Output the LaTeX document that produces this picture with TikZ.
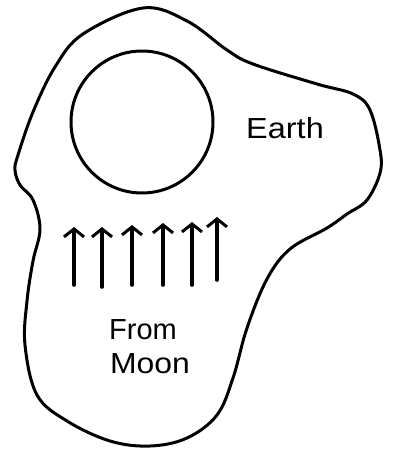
\documentclass[tikz,border=0pt]{standalone}
\usepackage{fontspec}
\setmainfont{Liberation Sans}
\usetikzlibrary{arrows.meta}
\begin{document}
\begin{tikzpicture}[x=1pt,y=-1pt,
  ink/.style={line width=3pt, line cap=round, line join=round},
  ray/.style={line width=3.6pt, line cap=round, -{Straight Barb[length=8pt,width=20pt,line width=3pt]}},
  hand/.style={font=\fontsize{29}{32}\selectfont, inner sep=0pt, anchor=center}]
\useasboundingbox (0,0) rectangle (392,456);
\draw[ink] plot[smooth cycle, tension=0.6] coordinates {
 (143,8) (187,21) (227,50) (253,64) (317,84) (353,94) (370,110) (380,150)
 (380,173) (367,200) (347,214) (327,228) (290,249) (267,279) (247,328)
 (233,378) (217,415) (187,438) (150,446) (110,441) (67,421) (37,395)
 (25,345) (27,301) (33,261) (40,229) (33,200) (20,185) (15,170) (18,155)
 (33,112) (55,67) (83,34)};
\node[draw, ink, circle, minimum size=142pt, inner sep=0pt] (earth) at (142,122) {};
\node[hand] (earthlbl) at (285,128) {\scalebox{1.12}[1]{Earth}};
\node[hand] (from) at (143,330) {From};
\node[hand] (moon) at (150,364) {\scalebox{1.1}[1]{Moon}};
\coordinate (b1) at (74,285); \coordinate (t1) at (74,227);
\coordinate (b2) at (102,287); \coordinate (t2) at (102,227);
\coordinate (b3) at (132,285); \coordinate (t3) at (132,225);
\coordinate (b4) at (163,285); \coordinate (t4) at (163,223);
\coordinate (b5) at (192,285); \coordinate (t5) at (192,222);
\coordinate (b6) at (217,280); \coordinate (t6) at (217,217);
\foreach \i in {1,...,6} \draw[ray] (b\i) -- (t\i);
\end{tikzpicture}
\end{document}
